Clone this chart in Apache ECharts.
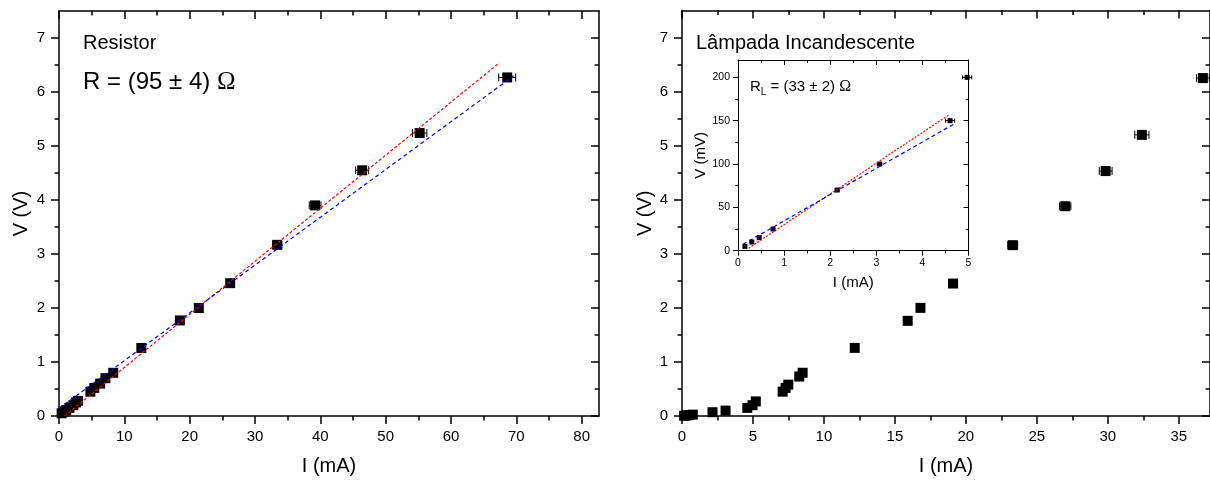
<!DOCTYPE html>
<html>
<head>
<meta charset="utf-8">
<script src="https://cdn.jsdelivr.net/npm/echarts@6/dist/echarts.min.js"></script>
<style>
  html, body { margin: 0; padding: 0; background: #fff; }
  #chart { width: 1210px; height: 481px; }
</style>
</head>
<body>
<div id="chart"></div>
<script>
// resistor: current (mA), voltage (V), current error (mA)
var resI = [0.4, 0.7, 1.1, 1.6, 2.2, 2.6, 2.9, 4.8, 5.4, 6.3, 7.1, 8.3, 12.6, 18.5, 21.4, 26.2, 33.4, 39.2, 46.4, 55.2, 68.6];
var resV = [0.05, 0.08, 0.11, 0.15, 0.2, 0.25, 0.28, 0.45, 0.52, 0.6, 0.7, 0.8, 1.26, 1.77, 2.0, 2.46, 3.17, 3.9, 4.55, 5.24, 6.27];
var resErr = [0.1, 0.1, 0.1, 0.1, 0.1, 0.1, 0.1, 0.15, 0.15, 0.15, 0.2, 0.2, 0.3, 0.4, 0.45, 0.55, 0.7, 0.9, 1.0, 1.1, 1.3];
// fitted lines (endpoints)
var resFitRed = [[0.85, 0], [67.4, 6.54]];
var resFitBlue = [[0, 0.14], [69.6, 6.3]];

// lamp: current (mA), voltage (V), current error (mA)
var lampI = [0.15, 0.3, 0.46, 0.76, 2.15, 3.07, 4.6, 4.97, 5.2, 7.09, 7.3, 7.49, 8.26, 8.5, 12.17, 15.9, 16.8, 19.1, 23.3, 27.0, 29.85, 32.4, 36.7];
var lampV = [0.005, 0.01, 0.015, 0.025, 0.07, 0.1, 0.15, 0.2, 0.27, 0.45, 0.52, 0.58, 0.73, 0.8, 1.26, 1.76, 2.0, 2.45, 3.16, 3.88, 4.53, 5.2, 6.25];
var lampErr = [0.05, 0.05, 0.05, 0.05, 0.05, 0.05, 0.1, 0.1, 0.1, 0.1, 0.1, 0.1, 0.15, 0.15, 0.2, 0.25, 0.25, 0.3, 0.35, 0.4, 0.45, 0.5, 0.45];

// inset: low current part of the lamp curve, V in mV
var insetI = [0.15, 0.3, 0.46, 0.76, 2.15, 3.07, 4.6, 4.97];
var insetV = [5, 10, 15, 25, 70, 100, 150, 200];
var insetErr = [0.03, 0.03, 0.03, 0.03, 0.04, 0.05, 0.1, 0.1];
var insetFitRed = [[0.23, 2.8], [4.57, 156.5]];
var insetFitBlue = [[0.11, 7.4], [4.68, 146]];

// tick values
var resXMajor = [0, 10, 20, 30, 40, 50, 60, 70, 80];
var resXMinor = [5, 15, 25, 35, 45, 55, 65, 75];
var vMajor = [0, 1, 2, 3, 4, 5, 6, 7];
var vMinor = [0.5, 1.5, 2.5, 3.5, 4.5, 5.5, 6.5];
var lampXMajor = [0, 5, 10, 15, 20, 25, 30, 35];
var lampXMinor = [2.5, 7.5, 12.5, 17.5, 22.5, 27.5, 32.5];
var inXMajor = [0, 1, 2, 3, 4, 5];
var inXMinor = [0.5, 1.5, 2.5, 3.5, 4.5];
var inYMajor = [0, 50, 100, 150, 200];
var inYMinor = [25, 75, 125, 175];

var FONT = 'Liberation Sans, Arial, sans-serif';

function zip(a, b, c) {
  var out = [];
  for (var i = 0; i < a.length; i++) {
    out.push(c ? [a[i], b[i], c[i]] : [a[i], b[i]]);
  }
  return out;
}

var xAxes = [];
var yAxes = [];

// builds the 4 sides of a box (main + mirror, each with a minor-tick twin)
function addAxes(list, dim, grid, min, max, major, minor, o) {
  var first = dim === 'x' ? 'bottom' : 'left';
  var second = dim === 'x' ? 'top' : 'right';
  var base = {
    type: 'value', gridIndex: grid, min: min, max: max,
    splitLine: { show: false }
  };
  var idx = list.length;
  list.push(Object.assign({}, base, {
    position: first,
    name: o.name, nameLocation: 'middle', nameGap: o.nameGap,
    nameTextStyle: { fontSize: o.nameSize, fontFamily: FONT, color: '#000' },
    axisLine: { show: true, onZero: false, lineStyle: { color: '#000', width: o.lw } },
    axisTick: { show: true, inside: false, length: o.tick, customValues: major, lineStyle: { color: '#000', width: o.lw } },
    axisLabel: { show: true, customValues: major, margin: o.margin, fontSize: o.fontSize, fontFamily: FONT, color: '#000' }
  }));
  list.push(Object.assign({}, base, {
    position: first,
    axisLine: { show: false, onZero: false },
    axisTick: { show: true, inside: false, length: o.tick * 0.55, customValues: minor, lineStyle: { color: '#000', width: o.lw } },
    axisLabel: { show: false }
  }));
  list.push(Object.assign({}, base, {
    position: second,
    axisLine: { show: true, onZero: false, lineStyle: { color: '#000', width: o.lw } },
    axisTick: { show: true, inside: true, length: o.tick, customValues: major, lineStyle: { color: '#000', width: o.lw } },
    axisLabel: { show: false }
  }));
  list.push(Object.assign({}, base, {
    position: second,
    axisLine: { show: false, onZero: false },
    axisTick: { show: true, inside: true, length: o.tick * 0.55, customValues: minor, lineStyle: { color: '#000', width: o.lw } },
    axisLabel: { show: false }
  }));
  return idx;
}

var mainX = { nameSize: 20, fontSize: 15, lw: 1.5, tick: 8, margin: 13, nameGap: 40 };
var mainY = { nameSize: 20, fontSize: 15, lw: 1.5, tick: 8, margin: 14, nameGap: 28 };

var rx = addAxes(xAxes, 'x', 0, 0, 82.65, resXMajor, resXMinor, Object.assign({ name: 'I (mA)' }, mainX));
var ry = addAxes(yAxes, 'y', 0, 0, 7.5, vMajor, vMinor, Object.assign({ name: 'V (V)' }, mainY));
var lx = addAxes(xAxes, 'x', 1, 0, 37.2, lampXMajor, lampXMinor, Object.assign({ name: 'I (mA)' }, mainX));
var ly = addAxes(yAxes, 'y', 1, 0, 7.5, vMajor, vMinor, Object.assign({ name: 'V (V)' }, mainY, { nameGap: 27 }));
var ix = addAxes(xAxes, 'x', 2, 0, 5, inXMajor, inXMinor,
  { name: 'I (mA)', nameSize: 15, fontSize: 10.5, lw: 1, tick: 5, margin: 7, nameGap: 25 });
var iy = addAxes(yAxes, 'y', 2, 0, 220, inYMajor, inYMinor,
  { name: 'V (mV)', nameSize: 15, fontSize: 10.5, lw: 1, tick: 5, margin: 8, nameGap: 27 });

function errBars(cap) {
  return function (params, api) {
    var x = api.value(0), y = api.value(1), e = api.value(2);
    var a = api.coord([x - e, y]);
    var b = api.coord([x + e, y]);
    var st = { stroke: '#000', lineWidth: 1 };
    return {
      type: 'group',
      children: [
        { type: 'line', shape: { x1: a[0], y1: a[1], x2: b[0], y2: b[1] }, style: st },
        { type: 'line', shape: { x1: a[0], y1: a[1] - cap, x2: a[0], y2: a[1] + cap }, style: st },
        { type: 'line', shape: { x1: b[0], y1: b[1] - cap, x2: b[0], y2: b[1] + cap }, style: st }
      ]
    };
  };
}

function pointSeries(xi, yi, I, V, E, size, cap) {
  return [
    {
      type: 'custom', xAxisIndex: xi, yAxisIndex: yi, silent: true,
      renderItem: errBars(cap), encode: { x: 0, y: 1 },
      data: zip(I, V, E), z: 3
    },
    {
      type: 'scatter', xAxisIndex: xi, yAxisIndex: yi, symbol: 'rect',
      symbolSize: size, itemStyle: { color: '#000', opacity: 1 },
      data: zip(I, V), z: 4
    }
  ];
}

function fitLine(xi, yi, pts, color, dash) {
  return {
    type: 'line', xAxisIndex: xi, yAxisIndex: yi, symbol: 'none', silent: true,
    lineStyle: { color: color, width: 1.2, type: dash },
    data: pts, z: 5
  };
}

var series = []
  .concat(pointSeries(rx, ry, resI, resV, resErr, 10, 4))
  .concat([fitLine(rx, ry, resFitRed, '#ff0000', [3, 2]), fitLine(rx, ry, resFitBlue, '#0000ff', [4, 3])])
  .concat(pointSeries(lx, ly, lampI, lampV, lampErr, 10, 4))
  .concat(pointSeries(ix, iy, insetI, insetV, insetErr, 5, 2))
  .concat([fitLine(ix, iy, insetFitRed, '#ff0000', [2, 1.5]), fitLine(ix, iy, insetFitBlue, '#0000ff', [4, 3])]);

var chart = echarts.init(document.getElementById('chart'));
chart.setOption({
  animation: false,
  backgroundColor: '#fff',
  grid: [
    { left: 59, top: 11, width: 540, height: 407 },
    { left: 682, top: 10.5, width: 529.6, height: 405.5 },
    { left: 738, top: 60, width: 230.5, height: 190.7 }
  ],
  xAxis: xAxes,
  yAxis: yAxes,
  series: series,
  graphic: [
    { type: 'text', x: 83, y: 43, style: { text: 'Resistor', fontSize: 20, fontFamily: FONT, fill: '#000', verticalAlign: 'middle' } },
    {
      type: 'text', x: 83, y: 82,
      style: {
        text: '{a|R = (95 ± 4) }{o|Ω}',
        verticalAlign: 'middle', fill: '#000',
        rich: {
          a: { fontSize: 24, fontFamily: FONT },
          o: { fontSize: 25, fontFamily: 'Liberation Serif, serif' }
        }
      }
    },
    { type: 'text', x: 696, y: 43, style: { text: 'Lâmpada Incandescente', fontSize: 20, fontFamily: FONT, fill: '#000', verticalAlign: 'middle' } },
    {
      type: 'text', x: 750, y: 87, z: 10,
      style: {
        text: '{a|R}{s|L}{a| = (33 ± 2) }{o|Ω}',
        verticalAlign: 'middle', fill: '#000',
        rich: {
          a: { fontSize: 15, fontFamily: FONT, verticalAlign: 'middle' },
          s: { fontSize: 10, fontFamily: FONT, padding: [10, 0, 0, 0] },
          o: { fontSize: 16, fontFamily: 'Liberation Serif, serif' }
        }
      }
    }
  ]
});
</script>
</body>
</html>
